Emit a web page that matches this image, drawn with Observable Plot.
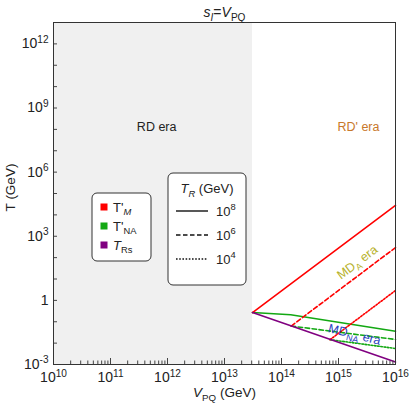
<!DOCTYPE html>
<html><head><meta charset="utf-8">
<script src="https://cdn.jsdelivr.net/npm/d3@7"></script>
<script src="https://cdn.jsdelivr.net/npm/@observablehq/plot@0.6"></script>
<style>
html,body{margin:0;padding:0;background:#fff;}
svg{font-family:"Liberation Sans",Arial,sans-serif;}
</style></head><body><div id="chart"></div>
<script>
// ---------- data ----------
const xDomain = [1e10, 1e16];
const yDomain = [1e-3, 1e13];
const xTickValues = [1e10, 1e11, 1e12, 1e13, 1e14, 1e15, 1e16];
const yLabelValues = [1e-3, 1, 1e3, 1e6, 1e9, 1e12];
const yTickValues = [1e-3,1e-2,1e-1,1,1e1,1e2,1e3,1e4,1e5,1e6,1e7,1e8,1e9,1e10,1e11,1e12];
const xMinorTicks = [];
for (let e = 10; e < 16; e++) for (let k = 2; k <= 9; k++) xMinorTicks.push(k * 10 ** e);

const shadeV = [1e10, 3.1e13];          // RD era region
const shadeT = [1e-3, 1e13];

// T'_M lines (red) for T_R = 1e8, 1e6, 1e4
const tM_1e8 = [[3.1e13, 0.27], [1e16, 2.75e4]];
const tM_1e6 = [[1.48e14, 0.063], [1e16, 295]];
const tM_1e4 = [[7.1e14, 0.0145], [1e16, 2.9]];
// T'_NA lines (green)
const tNA_1e8 = [[3.1e13, 0.27], [1.45e14, 0.211], [1e16, 0.036]];
const tNA_1e6 = [[1.48e14, 0.063], [1e16, 0.0148]];
const tNA_1e4 = [[7.1e14, 0.0145], [1e16, 0.0056]];
// T_Rs (purple)
const tRs = [[3.1e13, 0.27], [1e16, 0.0013]];

const seriesNames = ["T'<sub><i>M</i></sub>", "T'<sub>NA</sub>", "<i>T</i><sub>Rs</sub>"];
const seriesColors = ["#ff0000", "#13a813", "#800080"];
const trLabels = ["10<sup>8</sup>", "10<sup>6</sup>", "10<sup>4</sup>"];
const trDashes = [null, "4.5,2.5", "1.6,1.6"];

const eraLabels = [
  {V: 10 ** 11.81, T: 10 ** 8.13, text: "RD era", color: "#222222", rotate: 0},
  {V: 10 ** 15.35, T: 10 ** 8.13, text: "RD' era", color: "#c8782a", rotate: 0},
  {V: 10 ** 15.33, T: 10 ** 1.78, text: "MD<sub>A</sub> era", color: "#b7b22c", rotate: -37},
  {V: 10 ** 15.28, T: 10 ** -1.6, text: "MD<sub>NA</sub> era", color: "#2a3fc0", rotate: 14}
];

// ---------- layout ----------
const W = 411, H = 409, mL = 53, mR = 16, mT = 22, mB = 45;
const frameW = W - mL - mR, frameH = H - mT - mB;

const toRows = pts => pts.map(([V, T]) => ({V, T}));
const lineMark = (pts, color, dash) => Plot.line(toRows(pts), {
  x: "V", y: "T", stroke: color, strokeWidth: 1.6, strokeDasharray: dash || undefined
});
const supFmt = d => {
  const e = Math.round(Math.log10(d));
  return e === 0 ? "1" : `10<sup>${e}</sup>`;
};

const plot = Plot.plot({
  width: W, height: H,
  marginLeft: mL, marginRight: mR, marginTop: mT, marginBottom: mB,
  style: {fontFamily: "Liberation Sans, Arial, sans-serif", fontSize: "12px", background: "white", color: "#222"},
  x: {type: "log", domain: xDomain, axis: null},
  y: {type: "log", domain: yDomain, axis: null},
  marks: [
    Plot.rect([{x1: shadeV[0], x2: shadeV[1], y1: shadeT[0], y2: shadeT[1]}],
      {x1: "x1", x2: "x2", y1: "y1", y2: "y2", fill: "#f0f0f0"}),
    lineMark(tNA_1e8, seriesColors[1], trDashes[0]),
    lineMark(tNA_1e6, seriesColors[1], trDashes[1]),
    lineMark(tNA_1e4, seriesColors[1], trDashes[2]),
    lineMark(tM_1e8, seriesColors[0], trDashes[0]),
    lineMark(tM_1e6, seriesColors[0], trDashes[1]),
    lineMark(tM_1e4, seriesColors[0], trDashes[2]),
    lineMark(tRs, seriesColors[2], null),
    ...eraLabels.map(d => Plot.text([d], {x: "V", y: "T", text: "text", fill: d.color, rotate: d.rotate, fontSize: 12.5})),
    // inward ticks
    Plot.ruleY(yTickValues, {y: d => d, insetRight: frameW - 4, stroke: "#444"}),
    Plot.ruleX(xTickValues, {x: d => d, insetTop: frameH - 6, stroke: "#444"}),
    Plot.ruleX(xMinorTicks, {x: d => d, insetTop: frameH - 3.5, stroke: "#444"}),
    Plot.frame({stroke: "#333", strokeWidth: 1}),
    Plot.axisX({ticks: xTickValues, tickSize: 0, tickPadding: 8, tickFormat: supFmt, fontSize: 14, label: null}),
    Plot.axisY({ticks: yLabelValues, tickSize: 0, tickPadding: 5, tickFormat: supFmt, fontSize: 14, label: null}),
    Plot.text(["<i>s<sub>I</sub></i>=<i>V</i><sub>PQ</sub>"], {text: d => d, frameAnchor: "top", lineAnchor: "middle", textAnchor: "middle", dy: -10, fontSize: 14}),
    Plot.text(["T (GeV)"], {text: d => d, frameAnchor: "left", lineAnchor: "middle", textAnchor: "middle", dx: -43, dy: -6, rotate: -90, fontSize: 13.5}),
    Plot.text(["<i>V</i><sub>PQ</sub> (GeV)"], {text: d => d, frameAnchor: "bottom", lineAnchor: "middle", textAnchor: "middle", dy: 28, fontSize: 13.5})
  ]
});

document.getElementById("chart").appendChild(plot);

// ---------- legends ----------
const svg = d3.select(plot);
const lg1 = svg.append("g").attr("font-size", 13).attr("text-anchor", "start");
lg1.append("rect").attr("x", 92).attr("y", 193).attr("width", 59).attr("height", 68).attr("rx", 5)
  .attr("fill", "white").attr("stroke", "#333");
seriesNames.forEach((name, i) => {
  const cy = 207 + i * 19;
  lg1.append("rect").attr("x", 100.5).attr("y", cy - 3.5).attr("width", 7).attr("height", 7).attr("fill", seriesColors[i]);
  lg1.append("text").attr("x", 113).attr("y", cy + 4.5).attr("text-anchor", "start").attr("fill", "#222").text(name);
});

const lg2 = svg.append("g").attr("font-size", 13).attr("text-anchor", "start");
lg2.append("rect").attr("x", 168).attr("y", 173).attr("width", 78).attr("height", 112).attr("rx", 5)
  .attr("fill", "white").attr("stroke", "#333");
lg2.append("text").attr("x", 207).attr("y", 193).attr("text-anchor", "middle").attr("fill", "#222")
  .text("<i>T<sub>R</sub></i> (GeV)");
trLabels.forEach((lab, i) => {
  const cy = 211 + i * 24;
  const ln = lg2.append("line").attr("x1", 176).attr("x2", 208).attr("y1", cy).attr("y2", cy)
    .attr("stroke", "#111").attr("stroke-width", 1.4);
  if (trDashes[i]) ln.attr("stroke-dasharray", trDashes[i]);
  lg2.append("text").attr("x", 216).attr("y", cy + 4.5).attr("text-anchor", "start").attr("fill", "#222").text(lab);
});

// ---------- rich text (italic / sub / sup) ----------
function richify(root) {
  root.querySelectorAll("text").forEach(t => {
    const s = t.textContent;
    if (!s.includes("<")) return;
    const fs = parseFloat(getComputedStyle(t).fontSize) || 12;
    while (t.firstChild) t.removeChild(t.firstChild);
    let it = false, sub = false, sup = false, off = 0;
    const re = /<(\/?)(i|sub|sup)>|([^<]+)/g;
    let m;
    while ((m = re.exec(s))) {
      if (m[2]) {
        const on = !m[1];
        if (m[2] === "i") it = on; else if (m[2] === "sub") sub = on; else sup = on;
        continue;
      }
      const ts = document.createElementNS("http://www.w3.org/2000/svg", "tspan");
      const target = sub ? fs * 0.28 : sup ? -fs * 0.4 : 0;
      const dy = target - off; off = target;
      if (dy) ts.setAttribute("dy", dy.toFixed(2));
      if (sub || sup) ts.setAttribute("font-size", (fs * 0.72).toFixed(2));
      if (it) ts.setAttribute("font-style", "italic");
      ts.textContent = m[3];
      t.appendChild(ts);
    }
  });
}
richify(plot);
</script></body></html>
